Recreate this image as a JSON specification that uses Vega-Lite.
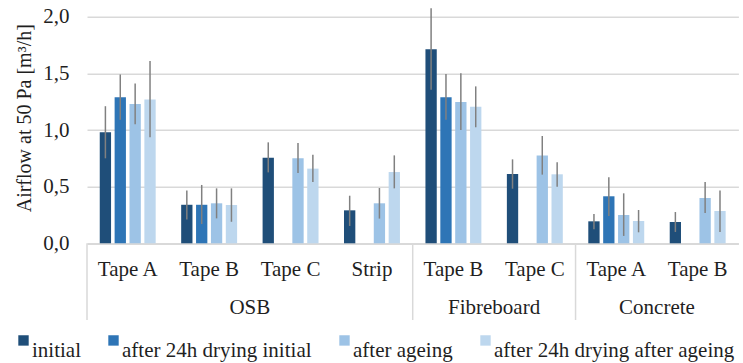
{
  "$schema": "https://vega.github.io/schema/vega-lite/v6.json",
  "autosize": {"type": "none"},
  "padding": {"left": 87, "top": 16.7, "right": 4.6, "bottom": 119.7},
  "width": 651.4,
  "height": 226.6,
  "config": {
    "font": "Liberation Serif",
    "view": {"stroke": null},
    "axis": {"labelFont": "Liberation Serif", "titleFont": "Liberation Serif", "labelColor": "#1f1f1f", "titleColor": "#1f1f1f", "labelFontSize": 21, "titleFontSize": 20, "titleFontWeight": "normal"},
    "legend": {"labelFont": "Liberation Serif", "labelFontSize": 21, "labelColor": "#1f1f1f", "labelLimit": 0}
  },
  "datasets": {
    "bars": [
      {"k": "OSB|Tape A", "s": "initial", "v": 0.98, "lo": 0.75, "hi": 1.21},
      {"k": "OSB|Tape A", "s": "after 24h drying initial", "v": 1.29, "lo": 1.09, "hi": 1.49},
      {"k": "OSB|Tape A", "s": "after ageing", "v": 1.23, "lo": 1.05, "hi": 1.41},
      {"k": "OSB|Tape A", "s": "after 24h drying after ageing", "v": 1.27, "lo": 0.935, "hi": 1.61},
      {"k": "OSB|Tape B", "s": "initial", "v": 0.34, "lo": 0.21, "hi": 0.465},
      {"k": "OSB|Tape B", "s": "after 24h drying initial", "v": 0.34, "lo": 0.17, "hi": 0.515},
      {"k": "OSB|Tape B", "s": "after ageing", "v": 0.353, "lo": 0.22, "hi": 0.485},
      {"k": "OSB|Tape B", "s": "after 24h drying after ageing", "v": 0.338, "lo": 0.19, "hi": 0.485},
      {"k": "OSB|Tape C", "s": "initial", "v": 0.756, "lo": 0.626, "hi": 0.891},
      {"k": "OSB|Tape C", "s": "after ageing", "v": 0.75, "lo": 0.62, "hi": 0.885},
      {"k": "OSB|Tape C", "s": "after 24h drying after ageing", "v": 0.659, "lo": 0.541, "hi": 0.782},
      {"k": "OSB|Strip", "s": "initial", "v": 0.291, "lo": 0.153, "hi": 0.42},
      {"k": "OSB|Strip", "s": "after ageing", "v": 0.353, "lo": 0.218, "hi": 0.488},
      {"k": "OSB|Strip", "s": "after 24h drying after ageing", "v": 0.629, "lo": 0.485, "hi": 0.776},
      {"k": "Fibreboard|Tape B", "s": "initial", "v": 1.712, "lo": 1.356, "hi": 2.074},
      {"k": "Fibreboard|Tape B", "s": "after 24h drying initial", "v": 1.288, "lo": 1.091, "hi": 1.494},
      {"k": "Fibreboard|Tape B", "s": "after ageing", "v": 1.247, "lo": 1.0, "hi": 1.5},
      {"k": "Fibreboard|Tape B", "s": "after 24h drying after ageing", "v": 1.206, "lo": 1.024, "hi": 1.385},
      {"k": "Fibreboard|Tape C", "s": "initial", "v": 0.612, "lo": 0.482, "hi": 0.741},
      {"k": "Fibreboard|Tape C", "s": "after ageing", "v": 0.776, "lo": 0.606, "hi": 0.947},
      {"k": "Fibreboard|Tape C", "s": "after 24h drying after ageing", "v": 0.609, "lo": 0.5, "hi": 0.715},
      {"k": "Concrete|Tape A", "s": "initial", "v": 0.194, "lo": 0.124, "hi": 0.259},
      {"k": "Concrete|Tape A", "s": "after 24h drying initial", "v": 0.415, "lo": 0.241, "hi": 0.582},
      {"k": "Concrete|Tape A", "s": "after ageing", "v": 0.25, "lo": 0.065, "hi": 0.441},
      {"k": "Concrete|Tape A", "s": "after 24h drying after ageing", "v": 0.197, "lo": 0.097, "hi": 0.294},
      {"k": "Concrete|Tape B", "s": "initial", "v": 0.188, "lo": 0.1, "hi": 0.276},
      {"k": "Concrete|Tape B", "s": "after ageing", "v": 0.4, "lo": 0.268, "hi": 0.541},
      {"k": "Concrete|Tape B", "s": "after 24h drying after ageing", "v": 0.285, "lo": 0.1, "hi": 0.465}
    ],
    "groups": [
      {"g": "OSB", "mid": "OSB|Tape B", "start": "OSB|Tape A"},
      {"g": "Fibreboard", "mid": "Fibreboard|Tape B", "start": "Fibreboard|Tape B"},
      {"g": "Concrete", "mid": "Concrete|Tape A", "start": "Concrete|Tape A"}
    ]
  },
  "layer": [
    {
      "data": {"name": "bars"},
      "mark": {"type": "bar"},
      "encoding": {
        "x": {
          "field": "k", "type": "nominal",
          "scale": {"domain": ["OSB|Tape A", "OSB|Tape B", "OSB|Tape C", "OSB|Strip", "Fibreboard|Tape B", "Fibreboard|Tape C", "Concrete|Tape A", "Concrete|Tape B"], "paddingInner": 0, "paddingOuter": 0},
          "axis": {"title": null, "labelAngle": 0, "labelExpr": "split(datum.label, '|')[1]", "ticks": false, "domainColor": "#d9d9d9", "domainWidth": 1.5, "labelBaseline": "alphabetic", "labelPadding": 32.4}
        },
        "xOffset": {
          "field": "s", "type": "nominal",
          "scale": {"domain": ["initial", "after 24h drying initial", "after ageing", "after 24h drying after ageing"], "paddingInner": 0.24, "paddingOuter": 0.857}
        },
        "y": {
          "field": "v", "type": "quantitative",
          "scale": {"domain": [0, 2], "nice": false},
          "axis": {"title": "Airflow at 50 Pa [m³/h]", "values": [0, 0.5, 1, 1.5, 2], "labelExpr": "replace(format(datum.value, '.1f'), '.', ',')", "domain": false, "ticks": false, "gridColor": "#d9d9d9", "gridWidth": 1.5, "labelPadding": 18, "titleX": -63, "titleY": 101, "titleAngle": -90, "titleBaseline": "middle", "titleAlign": "center"}
        },
        "color": {
          "field": "s", "type": "nominal",
          "scale": {"domain": ["initial", "after 24h drying initial", "after ageing", "after 24h drying after ageing"], "range": ["#1f4e79", "#2e75b6", "#9dc3e6", "#bdd7ee"]},
          "legend": {"title": null, "orient": "none", "direction": "horizontal", "legendX": -74, "legendY": 313, "symbolType": "square", "symbolSize": 108, "symbolStrokeWidth": 0, "symbolOpacity": 1, "labelOffset": -2, "columnPadding": 22, "labelBaseline": "top", "padding": 0}
        }
      }
    },
    {
      "data": {"name": "bars"},
      "mark": {"type": "rule", "color": "#808080", "strokeWidth": 1.5},
      "encoding": {
        "x": {"field": "k", "type": "nominal"},
        "xOffset": {"field": "s", "type": "nominal"},
        "y": {"field": "lo", "type": "quantitative"},
        "y2": {"field": "hi"}
      }
    },
    {
      "data": {"name": "groups"},
      "mark": {"type": "rule", "color": "#d9d9d9", "strokeWidth": 1.5},
      "encoding": {
        "x": {"field": "start", "type": "nominal", "bandPosition": 0},
        "y": {"datum": 0},
        "y2": {"datum": -0.677}
      }
    },
    {
      "data": {"name": "groups"},
      "mark": {"type": "text", "fontSize": 21, "color": "#1f1f1f", "baseline": "alphabetic", "align": "center"},
      "encoding": {
        "x": {"field": "mid", "type": "nominal", "bandPosition": 1},
        "y": {"datum": -0.624},
        "text": {"field": "g"}
      }
    }
  ]
}
